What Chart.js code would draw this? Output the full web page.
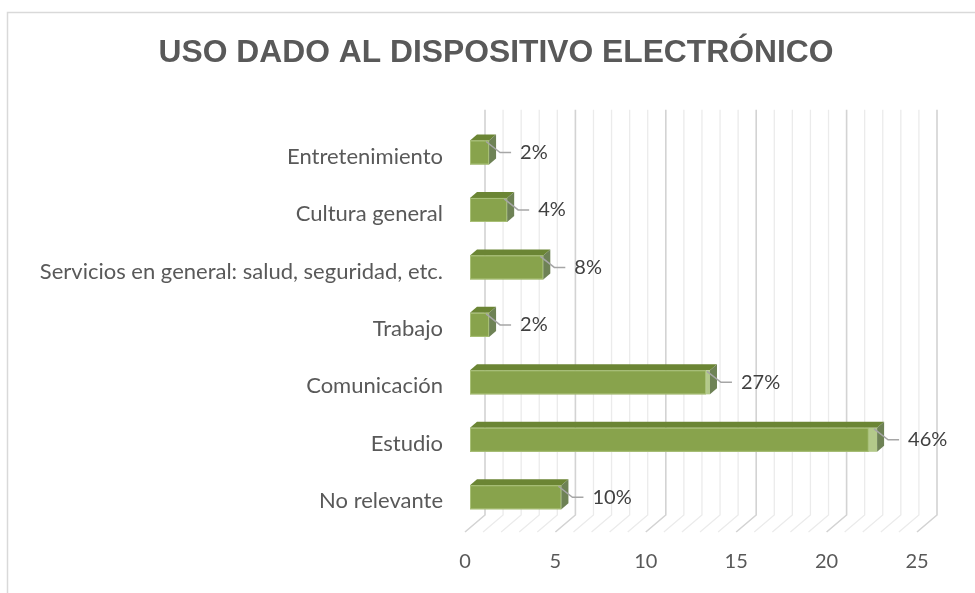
<!DOCTYPE html>
<html>
<head>
<meta charset="utf-8">
<script src="https://cdn.jsdelivr.net/npm/chart.js@4.4.1/dist/chart.umd.min.js"></script>
<style>
    html, body { margin: 0; padding: 0; background: #fff; overflow: hidden; }
    #wrap { position: absolute; left: 0; top: 0; width: 975px; height: 593px; }
</style>
</head>
<body>
<div id="wrap"><canvas id="usoChart"></canvas></div>
<script>

// ---------- Data ----------

const categories = [
    "Entretenimiento",
    "Cultura general",
    "Servicios en general: salud, seguridad, etc.",
    "Trabajo",
    "Comunicación",
    "Estudio",
    "No relevante"
];

const counts = [1, 2, 4, 1, 13, 22, 5];

const xTicks = [0, 5, 10, 15, 20, 25];

const total = counts.reduce((a, b) => a + b, 0);
const percentLabels = counts.map(c => Math.round(c / total * 100) + "%");

// -------- 3D look (walls, floor, boxes, labels) --------

const DEPTH_X = 20, DEPTH_Y = 17;   // floor depth
const BOX_X = 7, BOX_Y = 6;         // bar depth

const threeD = {

    id: "threeD",

    beforeDraw(chart) {
        const ctx = chart.ctx;
        ctx.save();
        ctx.strokeStyle = "#d9d9d9";
        ctx.lineWidth = 1.5;
        ctx.beginPath();
        ctx.moveTo(7.5, chart.height);
        ctx.lineTo(7.5, 12.5);
        ctx.lineTo(chart.width, 12.5);
        ctx.stroke();
        ctx.restore();
    },

    beforeDatasetsDraw(chart) {
        const ctx = chart.ctx;
        const xs = chart.scales.x;
        const ca = chart.chartArea;
        const frontY = ca.bottom + 2;
        const backY = frontY - DEPTH_Y;
        const topY = ca.top - 18;

        ctx.save();
        for (let v = xs.min; v <= xs.max; v++) {
            const x = xs.getPixelForValue(v);
            const major = v % 5 === 0;
            ctx.strokeStyle = major ? "#d3d3d3" : "#ebebeb";
            ctx.lineWidth = major ? 1.6 : 1.3;
            ctx.beginPath();
            ctx.moveTo(x, frontY);
            ctx.lineTo(x + DEPTH_X, backY);
            ctx.lineTo(x + DEPTH_X, topY);
            ctx.stroke();
        }
        ctx.restore();
    },

    afterDatasetsDraw(chart) {
        const ctx = chart.ctx;
        const meta = chart.getDatasetMeta(0);

        ctx.save();
        meta.data.forEach((bar, i) => {
            const h = bar.height;
            const cy = bar.y - 4;
            const yTop = cy - h / 2;
            const yBot = cy + h / 2;
            const x0 = bar.base + 5;
            const xm = bar.x + 6;
            // perspective shows a sliver of the end cap on long bars
            const cap = Math.max(0, (xm - 560) * 0.027);
            const x1 = xm + cap;

            // top face
            ctx.fillStyle = "#6b8534";
            ctx.beginPath();
            ctx.moveTo(x0, yTop);
            ctx.lineTo(x0 + BOX_X, yTop - BOX_Y);
            ctx.lineTo(x1 + BOX_X, yTop - BOX_Y);
            ctx.lineTo(x1, yTop);
            ctx.closePath();
            ctx.fill();

            // front face
            ctx.fillStyle = "#88a34c";
            ctx.fillRect(x0, yTop, xm - x0, h);
            ctx.strokeStyle = "#a9c078";
            ctx.lineWidth = 1;
            ctx.strokeRect(x0 + 0.5, yTop + 0.5, xm - x0 - 1, h - 1);

            // end cap sliver
            if (cap > 0) {
                ctx.fillStyle = "#b3c98a";
                ctx.fillRect(xm, yTop, cap, h);
            }

            // side face
            ctx.fillStyle = "#6e8255";
            ctx.beginPath();
            ctx.moveTo(x1, yTop);
            ctx.lineTo(x1 + BOX_X, yTop - BOX_Y);
            ctx.lineTo(x1 + BOX_X, yBot - BOX_Y);
            ctx.lineTo(x1, yBot);
            ctx.closePath();
            ctx.fill();

            // leader line + label
            const sideEnd = x1 + BOX_X;
            ctx.strokeStyle = "#a6a6a6";
            ctx.lineWidth = 1.5;
            ctx.beginPath();
            ctx.moveTo(x1 - 3, yTop + 1);
            ctx.lineTo(sideEnd + 4, cy);
            ctx.lineTo(sideEnd + 15, cy);
            ctx.stroke();

            ctx.fillStyle = "#404040";
            ctx.font = "20px Lato";
            ctx.textAlign = "left";
            ctx.textBaseline = "middle";
            ctx.fillText(percentLabels[i], sideEnd + 24, cy);
        });
        ctx.restore();
    }
};

// -------- Chart --------

const usoChart = new Chart(document.getElementById("usoChart"), {

    type: "bar",

    data: {
        labels: categories,
        datasets: [{
            label: "Uso",
            data: counts,
            backgroundColor: "rgba(0,0,0,0)",
            borderWidth: 0,
            categoryPercentage: 1,
            barPercentage: 0.418
        }]
    },

    options: {

        indexAxis: "y",

        responsive: true,

        maintainAspectRatio: false,

        animation: false,

        layout: {
            padding: { left: 17, right: 0, top: 0, bottom: 0 }
        },

        plugins: {
            legend: { display: false },
            tooltip: { enabled: false },
            title: {
                display: true,
                text: "USO DADO AL DISPOSITIVO ELECTRÓNICO",
                color: "#595959",
                font: { family: "Liberation Sans", size: 31.8, weight: "bold" },
                padding: { top: 34, bottom: 55.6 }
            }
        },

        scales: {

            x: {
                min: 0,
                max: 25,
                afterBuildTicks: scale => {
                    scale.ticks = xTicks.map(v => ({ value: v }));
                },
                afterFit: scale => { scale.height = 63; },
                grid: { display: false, drawTicks: false },
                border: { display: false },
                ticks: {
                    color: "#595959",
                    padding: 20,
                    font: { family: "Lato", size: 20 }
                }
            },

            y: {
                afterFit: scale => { scale.width = 448; },
                grid: { display: false, drawTicks: false },
                border: { display: false },
                ticks: {
                    color: "#595959",
                    padding: 22,
                    font: { family: "Lato", size: 22 }
                }
            },

            // empty right-hand margin, keeps room beside the back wall
            yRight: {
                type: "category",
                position: "right",
                afterFit: scale => { scale.width = 58; },
                grid: { display: false, drawTicks: false },
                border: { display: false },
                ticks: { display: false }
            }

        }

    },

    plugins: [threeD]

});

</script>
</body>
</html>
